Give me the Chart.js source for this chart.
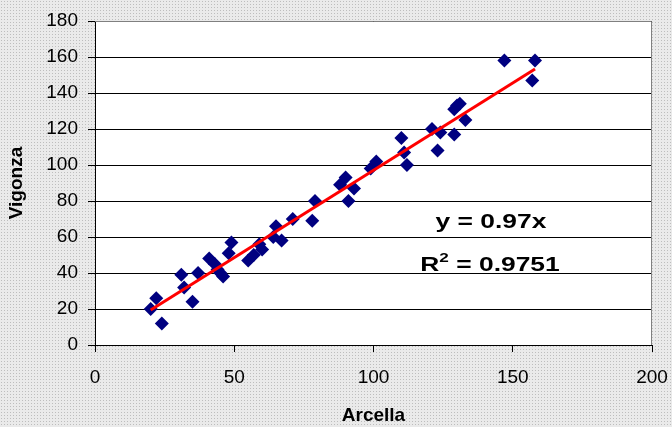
<!DOCTYPE html>
<html>
<head>
<meta charset="utf-8">
<script src="https://cdn.jsdelivr.net/npm/chart.js@4.4.0/dist/chart.umd.min.js"></script>
<style>
  html, body { margin: 0; padding: 0; }
  body {
    width: 672px; height: 427px; overflow: hidden;
    background-color: #eaeaea;
    background-image: radial-gradient(circle, #bdbdbd 0.8px, transparent 0.95px);
    background-size: 3px 3px;
  }
  #wrap { position: relative; width: 672px; height: 427px; }
</style>
</head>
<body>
<div id="wrap"><canvas id="scatterChart"></canvas></div>
<script>
// values
const arcella = [20, 22, 24, 31, 32, 35, 37, 41, 43, 44, 45, 46, 48, 49, 55, 57, 59, 60, 64, 65, 67, 71,
  78, 79, 88, 90, 93, 91, 99, 101, 110, 111, 112, 121, 124, 123, 129, 129, 130, 131, 133, 147, 158, 157];
const vigonza = [20, 26, 12, 39, 32, 24, 40, 48, 45, 42, 40, 38, 51, 57, 47, 50, 56, 53, 60, 66, 58, 70,
  69, 80, 89, 93, 87, 80, 98, 102, 115, 107, 100, 120, 118, 108, 117, 131, 133, 134, 125, 158, 158, 147];

// trend line end points (y = 0.97x)
const trendX = [20, 158];
const trendY = [19.4, 153.3];

const xTicks = [0, 50, 100, 150, 200];
const yTicks = [0, 20, 40, 60, 80, 100, 120, 140, 160, 180];

const fontFamily = '"Liberation Sans", Arial, sans-serif';

const points = arcella.map((x, i) => ({ x: x, y: vigonza[i] }));
const trend = trendX.map((x, i) => ({ x: x, y: trendY[i] }));

// white plot area, grey frame and the equation text
const plotFrame = {
  id: 'plotFrame',
  beforeDraw(chart) {
    const { ctx, chartArea: a } = chart;
    ctx.save();
    ctx.fillStyle = '#ffffff';
    ctx.fillRect(a.left, a.top, a.right - a.left, a.bottom - a.top);
    ctx.restore();
  },
  beforeDatasetsDraw(chart) {
    const { ctx, chartArea: a } = chart;
    ctx.save();
    ctx.strokeStyle = '#808080';
    ctx.lineWidth = 1;
    ctx.beginPath();
    ctx.moveTo(a.left, a.top + 0.5);
    ctx.lineTo(a.right - 0.5, a.top + 0.5);
    ctx.lineTo(a.right - 0.5, a.bottom);
    ctx.stroke();
    ctx.restore();
  },
  afterDraw(chart) {
    const ctx = chart.ctx;
    const sx = 1.32;
    ctx.save();
    ctx.fillStyle = '#000';
    ctx.textBaseline = 'alphabetic';
    ctx.font = 'bold 20px ' + fontFamily;

    // y = 0.97x
    let w = ctx.measureText('y = 0.97x').width * sx;
    ctx.save();
    ctx.translate(491 - w / 2, 228);
    ctx.scale(sx, 1);
    ctx.fillText('y = 0.97x', 0, 0);
    ctx.restore();

    // R² = 0.9751
    const rW = ctx.measureText('R').width;
    ctx.font = 'bold 13px ' + fontFamily;
    const supW = ctx.measureText('2').width;
    ctx.font = 'bold 20px ' + fontFamily;
    const restW = ctx.measureText(' = 0.9751').width;
    w = (rW + supW + restW) * sx;
    ctx.save();
    ctx.translate(490 - w / 2, 271);
    ctx.scale(sx, 1);
    ctx.fillText('R', 0, 0);
    ctx.font = 'bold 13px ' + fontFamily;
    ctx.fillText('2', rW, -9);
    ctx.font = 'bold 20px ' + fontFamily;
    ctx.fillText(' = 0.9751', rW + supW, 0);
    ctx.restore();
    ctx.restore();
  }
};

new Chart(document.getElementById('scatterChart'), {
  type: 'scatter',
  data: {
    datasets: [
      {
        label: 'Trend',
        type: 'line',
        data: trend,
        borderColor: '#ff0000',
        borderWidth: 3,
        pointRadius: 0,
        fill: false,
        order: 0
      },
      {
        label: 'Vigonza vs Arcella',
        data: points,
        pointStyle: 'rectRot',
        pointRadius: 7,
        backgroundColor: '#000080',
        borderColor: '#000080',
        borderWidth: 0,
        order: 1
      }
    ]
  },
  options: {
    responsive: true,
    maintainAspectRatio: false,
    animation: false,
    layout: { padding: { left: 0, top: 21, right: 20, bottom: 0 } },
    plugins: {
      legend: { display: false },
      tooltip: { enabled: false }
    },
    scales: {
      x: {
        type: 'linear',
        min: 0,
        max: 200,
        afterFit: scale => {
          scale.height = 82;
          scale.paddingLeft = 0;
          scale.paddingRight = 0;
        },
        afterBuildTicks: scale => { scale.ticks = xTicks.map(v => ({ value: v })); },
        grid: { drawOnChartArea: false, color: '#000', tickLength: 7 },
        border: { color: '#000', width: 1 },
        ticks: { color: '#000', padding: 14, font: { family: fontFamily, size: 19 } },
        title: {
          display: true,
          text: 'Arcella',
          color: '#000',
          padding: { top: 0, bottom: 0 },
          font: { family: fontFamily, size: 19, weight: 'bold' }
        }
      },
      y: {
        type: 'linear',
        min: 0,
        max: 180,
        afterFit: scale => {
          scale.width = 95;
          scale.paddingTop = 0;
          scale.paddingBottom = 0;
        },
        afterBuildTicks: scale => { scale.ticks = yTicks.map(v => ({ value: v })); },
        grid: { color: '#000', tickLength: 7 },
        border: { color: '#000', width: 1 },
        ticks: { color: '#000', padding: 10, font: { family: fontFamily, size: 19 } },
        title: {
          display: true,
          text: 'Vigonza',
          color: '#000',
          padding: { top: 5, bottom: 0 },
          font: { family: fontFamily, size: 19, weight: 'bold' }
        }
      }
    }
  },
  plugins: [plotFrame]
});
</script>
</body>
</html>
